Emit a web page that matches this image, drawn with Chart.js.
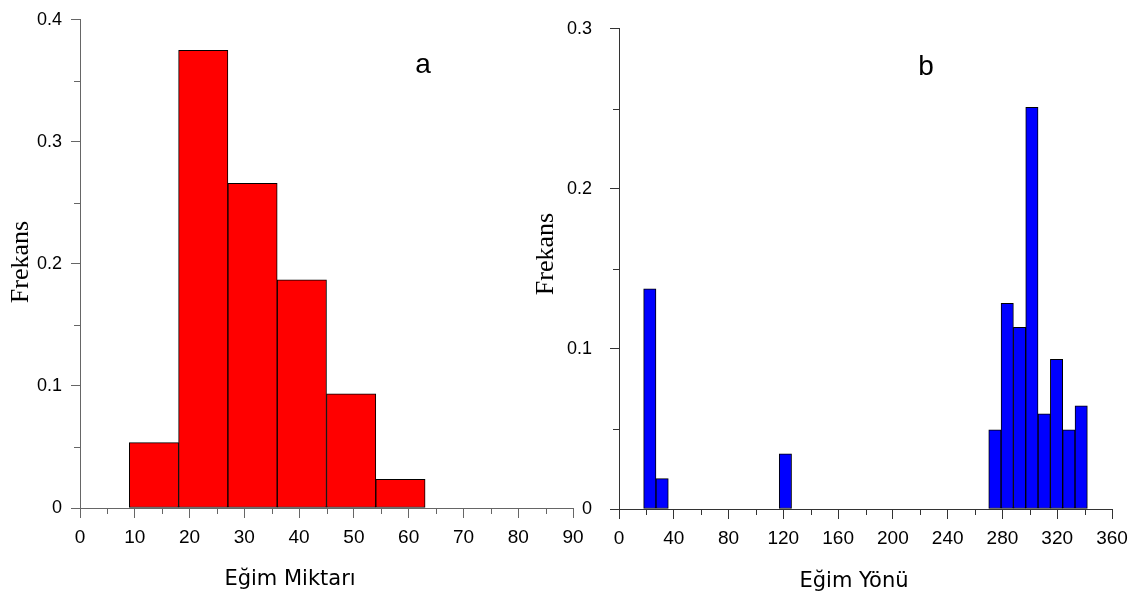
<!DOCTYPE html>
<html>
<head>
<meta charset="utf-8">
<script src="https://cdn.jsdelivr.net/npm/chart.js@4.4.0/dist/chart.umd.min.js"></script>
<style>
  html, body { margin: 0; padding: 0; background: #fff; }
  #wrap { position: relative; width: 1141px; height: 603px; overflow: hidden; }
  canvas { position: absolute; top: 0; }
  #chartA { left: 0; }
  #chartB { left: 520px; }
</style>
</head>
<body>
<div id="wrap">
  <canvas id="chartA" width="598" height="603"></canvas>
  <canvas id="chartB" width="621" height="603"></canvas>
</div>
<script>
// a: Eğim Miktarı, bins of 9 (centres)
const slopeBins = [13.5, 22.5, 31.5, 40.5, 49.5, 58.5];
const slopeFreq = [0.0535, 0.375, 0.266, 0.187, 0.0935, 0.0235];
const slopeXTicks = [0, 10, 20, 30, 40, 50, 60, 70, 80, 90];
const slopeYTicks = [0, 0.1, 0.2, 0.3, 0.4];

// b: Eğim Yönü, bins of 9 (centres), empty bins left out
const aspectBins = [22.5, 31.5, 121.5, 274.5, 283.5, 292.5, 301.5, 310.5, 319.5, 328.5, 337.5];
const aspectFreq = [0.1375, 0.019, 0.0345, 0.0495, 0.1285, 0.1135, 0.251, 0.0595, 0.0935, 0.0495, 0.0645];
const aspectXTicks = [0, 40, 80, 120, 160, 200, 240, 280, 320, 360];
const aspectYTicks = [0, 0.1, 0.2, 0.3];

const sansFont = '"Liberation Sans", Arial, sans-serif';
const serifFont = '"Liberation Serif", "Times New Roman", serif';

// short ticks half way between the labelled ones
const minorTicks = {
  id: 'minorTicks',
  afterDraw(chart) {
    const ctx = chart.ctx;
    ['x', 'y'].forEach(id => {
      const s = chart.scales[id];
      ctx.save();
      ctx.strokeStyle = s.options.grid.color;
      ctx.lineWidth = 1;
      ctx.beginPath();
      for (let i = 0; i < s.ticks.length - 1; i++) {
        const v = (s.ticks[i].value + s.ticks[i + 1].value) / 2;
        const p = Math.round(s.getPixelForValue(v)) + 0.5;
        if (id === 'x') { ctx.moveTo(p, s.top); ctx.lineTo(p, s.top + 6); }
        else { ctx.moveTo(s.right, p); ctx.lineTo(s.right - 6, p); }
      }
      ctx.stroke();
      ctx.restore();
    });
  }
};

// panel letter, axis captions
const panelText = {
  id: 'panelText',
  afterDraw(chart, args, opts) {
    const ctx = chart.ctx;
    (opts.items || []).forEach(t => {
      ctx.save();
      ctx.fillStyle = '#000';
      ctx.textAlign = 'center';
      ctx.textBaseline = t.rotate ? 'middle' : 'alphabetic';
      ctx.font = t.font;
      ctx.translate(t.x, t.y);
      if (t.rotate) ctx.rotate(-Math.PI / 2);
      ctx.fillText(t.text, 0, 0);
      ctx.restore();
    });
  }
};

function makeHist(id, bins, freq, color, xTicks, yTicks, cfg) {
  const axisColor = cfg.axisColor;
  return new Chart(document.getElementById(id), {
    type: 'bar',
    data: {
      datasets: [{
        data: bins.map((b, i) => ({ x: b, y: freq[i] })),
        backgroundColor: color,
        borderColor: '#000',
        borderWidth: 1,
        borderSkipped: false,
        barPercentage: 1,
        categoryPercentage: 1
      }]
    },
    options: {
      responsive: false,
      animation: false,
      layout: { padding: cfg.padding },
      plugins: {
        legend: { display: false },
        tooltip: { enabled: false },
        panelText: { items: cfg.texts }
      },
      scales: {
        x: {
          type: 'linear',
          min: xTicks[0],
          max: xTicks[xTicks.length - 1],
          offset: false,
          afterBuildTicks: s => { s.ticks = xTicks.map(v => ({ value: v })); },
          afterFit: s => { s.height = cfg.xHeight; },
          grid: { display: true, drawOnChartArea: false, drawTicks: true, tickLength: 10, color: axisColor, offset: false },
          border: { display: true, color: axisColor },
          ticks: { color: '#000', font: { family: sansFont, size: 19 }, padding: 8, maxRotation: 0, autoSkip: false }
        },
        y: {
          type: 'linear',
          min: 0,
          max: yTicks[yTicks.length - 1],
          afterBuildTicks: s => { s.ticks = yTicks.map(v => ({ value: v })); },
          afterFit: s => { s.width = cfg.yWidth; },
          grid: { display: true, drawOnChartArea: false, drawTicks: true, tickLength: 9, color: axisColor },
          border: { display: true, color: axisColor },
          ticks: {
            color: '#000',
            font: { family: sansFont, size: 18 },
            padding: cfg.yPad,
            callback: v => v === 0 ? '0' : v.toFixed(1)
          }
        }
      }
    },
    plugins: [minorTicks, panelText]
  });
}

makeHist('chartA', slopeBins, slopeFreq, '#ff0000', slopeXTicks, slopeYTicks, {
  axisColor: '#666',
  padding: { left: 0, top: 13, right: 25, bottom: 0 },
  xHeight: 95,
  yWidth: 80,
  yPad: 9,
  texts: [
    { text: 'a', x: 423, y: 73, font: '28px ' + sansFont },
    { text: 'Eğim Miktarı', x: 290, y: 585, font: '21px "DejaVu Sans", sans-serif' },
    { text: 'Frekans', x: 21, y: 262, font: '26px ' + serifFont, rotate: true }
  ]
});

makeHist('chartB', aspectBins, aspectFreq, '#0000ff', aspectXTicks, aspectYTicks, {
  axisColor: '#333',
  padding: { left: 0, top: 15, right: 29, bottom: 0 },
  xHeight: 94,
  yWidth: 99,
  yPad: 18,
  texts: [
    { text: 'b', x: 406, y: 75, font: '28px ' + sansFont },
    { text: 'Eğim Yönü', x: 334, y: 587, font: '21px "DejaVu Sans", sans-serif' },
    { text: 'Frekans', x: 26, y: 254, font: '26px ' + serifFont, rotate: true }
  ]
});
</script>
</body>
</html>
